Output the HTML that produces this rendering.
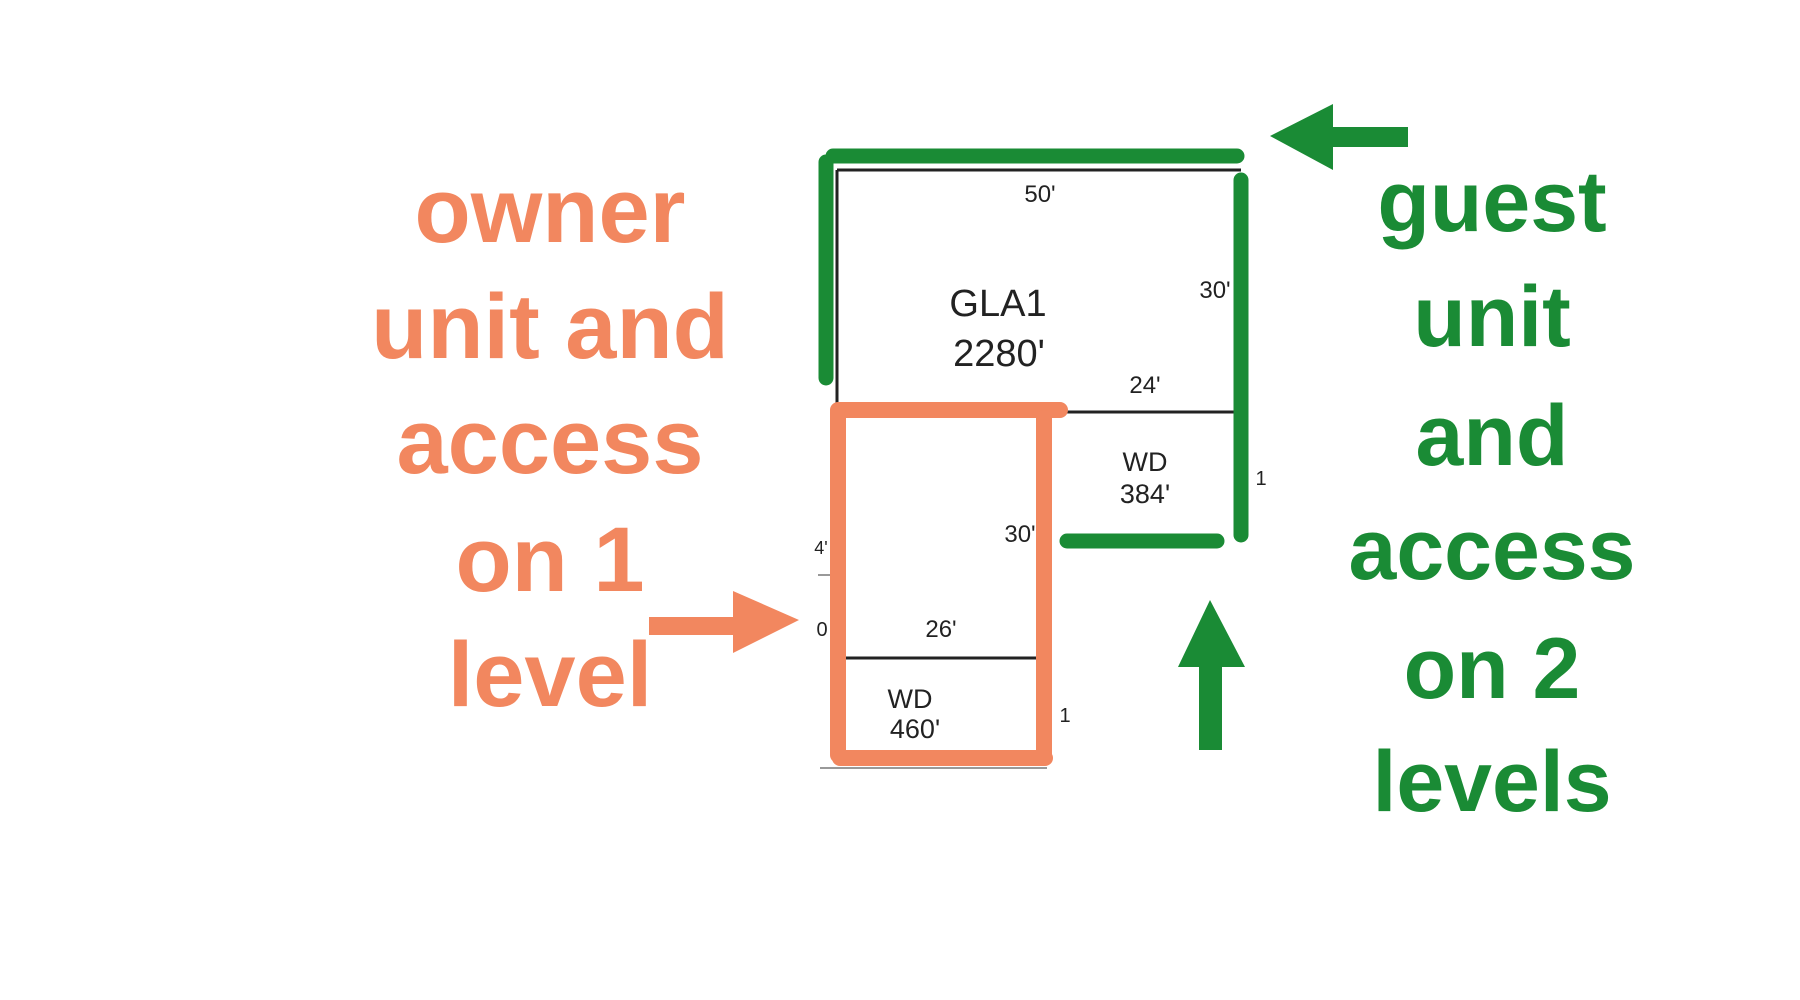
<!DOCTYPE html>
<html><head><meta charset="utf-8"><style>
html,body{margin:0;padding:0;background:#fff;}
svg{display:block;}
</style></head><body>
<svg width="1800" height="1000" viewBox="0 0 1800 1000" xmlns="http://www.w3.org/2000/svg">
<rect width="1800" height="1000" fill="#fff"/>
<g transform="translate(-5,0)">
<g stroke="#222" stroke-width="3" fill="none">
<line x1="842" y1="170" x2="1246" y2="170"/>
<line x1="842" y1="170" x2="842" y2="410"/>
<line x1="1067" y1="412" x2="1240" y2="412"/>
<line x1="850" y1="658" x2="1041" y2="658"/>
</g>
<line x1="825" y1="768" x2="1052" y2="768" stroke="#999" stroke-width="2"/>
<line x1="823" y1="575" x2="838" y2="575" stroke="#999" stroke-width="2"/>
<g font-family="Liberation Sans, sans-serif" fill="#222" text-anchor="middle">
<text x="1045" y="202" font-size="24">50'</text>
<text x="1220" y="298" font-size="24">30'</text>
<text x="1150" y="393" font-size="24">24'</text>
<text x="1003" y="316" font-size="38">GLA1</text>
<text x="1004" y="366" font-size="38">2280'</text>
<text x="1150" y="471" font-size="27">WD</text>
<text x="1150" y="503" font-size="27">384'</text>
<text x="1266" y="485" font-size="20">1</text>
<text x="1025" y="542" font-size="24">30'</text>
<text x="946" y="637" font-size="24">26'</text>
<text x="915" y="708" font-size="27">WD</text>
<text x="920" y="738" font-size="27">460'</text>
<text x="1070" y="722" font-size="20">1</text>
<text x="827" y="636" font-size="20">0</text>
<text x="826" y="554" font-size="18">4'</text>
</g>
<g stroke="#1a8b35" stroke-width="15" stroke-linecap="round" fill="none">
<line x1="838" y1="156" x2="1242" y2="156"/>
<line x1="831" y1="162" x2="831" y2="378"/>
<line x1="1246" y1="180" x2="1246" y2="535"/>
<line x1="1072" y1="541" x2="1222" y2="541"/>
</g>
<g stroke="#f2875f" stroke-width="16" stroke-linecap="round" fill="none">
<line x1="843" y1="410" x2="1065" y2="410"/>
<line x1="843" y1="412" x2="843" y2="755"/>
<line x1="1049" y1="418" x2="1049" y2="755"/>
<line x1="845" y1="758" x2="1050" y2="758"/>
</g>
<polygon points="654,617 738,617 738,591 804,620 738,653 738,635 654,635" fill="#f2875f"/>
<polygon points="1413,127 1338,127 1338,104 1275,136 1338,170 1338,147 1413,147" fill="#1a8b35"/>
<polygon points="1204,750 1204,667 1183,667 1215,600 1250,667 1227,667 1227,750" fill="#1a8b35"/>
</g>
<g font-family="Liberation Sans, sans-serif" font-weight="bold" fill="#f2875f" text-anchor="middle" font-size="92">
<text x="550" y="242">owner</text>
<text x="550" y="358">unit and</text>
<text x="550" y="473">access</text>
<text x="550" y="591">on 1</text>
<text x="550" y="706">level</text>
</g>
<g font-family="Liberation Sans, sans-serif" font-weight="bold" fill="#1a8b35" text-anchor="middle" font-size="86">
<text x="1492" y="231">guest</text>
<text x="1492" y="346">unit</text>
<text x="1492" y="465">and</text>
<text x="1492" y="579">access</text>
<text x="1492" y="698">on 2</text>
<text x="1492" y="811">levels</text>
</g>
</svg>
</body></html>
